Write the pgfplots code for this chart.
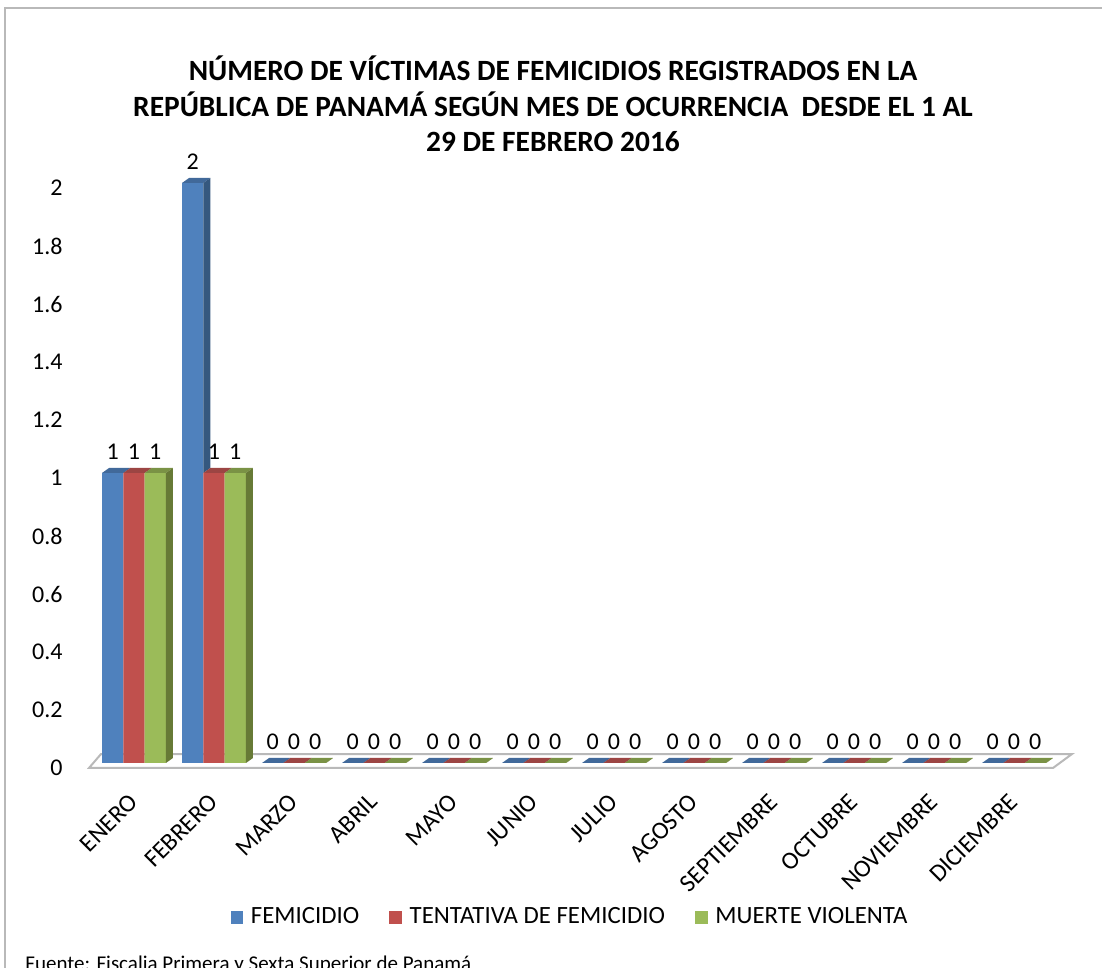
\documentclass[border=0pt]{standalone}
\usepackage{pgfplots}
\usepackage{pgfplotstable}
\pgfplotsset{compat=1.18}
\usepackage{fontspec}
\setmainfont{Carlito}
\definecolor{bF}{HTML}{4F81BD}
\definecolor{bT}{HTML}{41699A}
\definecolor{bS}{HTML}{35587F}
\definecolor{rF}{HTML}{C0504D}
\definecolor{rT}{HTML}{9C4543}
\definecolor{rS}{HTML}{8C3A38}
\definecolor{gF}{HTML}{9BBB59}
\definecolor{gT}{HTML}{7A9245}
\definecolor{gS}{HTML}{677A36}
\newcommand\defbarmark[4]{%
 \pgfdeclareplotmark{#1}{%
  \pgfscope
  \pgfmathsetmacro\hh{max(\yv-\nb,0)*145}%
  \pgftransformxshift{#2}%
  \pgfpathmoveto{\pgfpoint{-5.325pt}{0pt}}%
  \pgfpathlineto{\pgfpoint{5.325pt}{0pt}}%
  \pgfpathlineto{\pgfpoint{8.825pt}{2.5pt}}%
  \pgfpathlineto{\pgfpoint{-1.825pt}{2.5pt}}%
  \pgfpathclose
  \pgfsetfillcolor{#3}\pgfusepath{fill}%
  \pgfpathmoveto{\pgfpoint{5.325pt}{0pt}}%
  \pgfpathlineto{\pgfpoint{8.825pt}{2.5pt}}%
  \pgfpathlineto{\pgfpoint{8.825pt}{2.5pt-\hh pt}}%
  \pgfpathlineto{\pgfpoint{5.325pt}{-\hh pt}}%
  \pgfpathclose
  \pgfsetfillcolor{#4}\pgfusepath{fill}%
  \endpgfscope
 }}
\defbarmark{barA}{-10.65pt}{bT}{bS}
\defbarmark{barB}{0pt}{rT}{rS}
\defbarmark{barC}{10.65pt}{gT}{gS}
\pgfplotstableread{
x fem ten mue zero
0 1 1 1 0
1 2 1 1 0
2 0 0 0 0
3 0 0 0 0
4 0 0 0 0
5 0 0 0 0
6 0 0 0 0
7 0 0 0 0
8 0 0 0 0
9 0 0 0 0
10 0 0 0 0
11 0 0 0 0
}\data
\pgfplotsset{/pgf/number format/assume math mode=true}
\begin{document}
\begin{tikzpicture}
\useasboundingbox (0,0) rectangle (551pt,484pt);
\clip (0,0) rectangle (551pt,484pt);
\draw[gray!55, line width=0.8pt] (2.5pt,-20pt) rectangle (600pt,480pt);
\begin{axis}[
  at={(67pt,102.5pt)}, anchor=origin,
  x=40pt, y=145pt,
  xmin=-0.6, xmax=11.8, ymin=-0.03, ymax=2,
  clip=false,
  axis line style={draw=none},
  major tick length=0pt,
  xtick={0,1,2,3,4,5,6,7,8,9,10,11},
  xticklabels={ENERO,FEBRERO,MARZO,ABRIL,MAYO,JUNIO,JULIO,AGOSTO,SEPTIEMBRE,OCTUBRE,NOVIEMBRE,DICIEMBRE},
  xticklabel style={rotate=45, anchor=east, inner sep=0pt, font=\fontsize{12.4}{14}\selectfont},
  xticklabel shift=13pt,
  ytick={0,0.2,0.4,0.6,0.8,1,1.2,1.4,1.6,1.8,2},
  yticklabel style={anchor=east, inner sep=0pt, xshift=-11.5pt, yshift=-2.5pt, font=\fontsize{12}{14}\selectfont},
  title={NÚMERO DE VÍCTIMAS DE FEMICIDIOS REGISTRADOS EN LA\\REPÚBLICA DE PANAMÁ SEGÚN MES DE OCURRENCIA\ \ DESDE EL 1 AL\\29 DE FEBRERO 2016},
  title style={at={(0.4708,1.114)}, anchor=center, align=center, font=\bfseries\fontsize{14.7}{17.8}\selectfont},
  legend style={at={(0.4889,-0.2470)}, anchor=center, draw=none, fill=none, font=\fontsize{12.4}{14}\selectfont, legend columns=3, /tikz/every even column/.append style={column sep=13pt}},
  legend image code/.code={\fill[#1,draw=none] (0pt,-3.2pt) rectangle (6.4pt,3.2pt); \path (8.2pt,0pt);},
  every node near coord/.append style={font=\fontsize{12}{14}\selectfont, black, yshift=3pt},
]
\addplot[fill=white, draw=gray!55, line width=1pt, forget plot] coordinates {(-0.5625,-0.0172) (11.4875,-0.0172) (11.725,0.031) (-0.4125,0.031)} -- cycle;

\addplot[scatter, only marks, mark=barA, forget plot, visualization depends on={y \as \yv}, visualization depends on={\thisrow{ten} \as \nb}, scatter/use mapped color={draw=none,fill=none}] table[x=x,y=fem]{\data};
\addplot[ybar, bar width=10.65pt, bar shift=-10.65pt, fill=bF, draw=none, nodes near coords, every node near coord/.append style={xshift=-10.65pt}] table[x=x,y=fem]{\data};
\addlegendentry{FEMICIDIO}

\addplot[scatter, only marks, mark=barB, forget plot, visualization depends on={y \as \yv}, visualization depends on={\thisrow{mue} \as \nb}, scatter/use mapped color={draw=none,fill=none}] table[x=x,y=ten]{\data};
\addplot[ybar, bar width=10.65pt, bar shift=0pt, fill=rF, draw=none, nodes near coords] table[x=x,y=ten]{\data};
\addlegendentry{TENTATIVA DE FEMICIDIO}

\addplot[scatter, only marks, mark=barC, forget plot, visualization depends on={y \as \yv}, visualization depends on={\thisrow{zero} \as \nb}, scatter/use mapped color={draw=none,fill=none}] table[x=x,y=mue]{\data};
\addplot[ybar, bar width=10.65pt, bar shift=10.65pt, fill=gF, draw=none, nodes near coords, every node near coord/.append style={xshift=10.65pt}] table[x=x,y=mue]{\data};
\addlegendentry{MUERTE VIOLENTA}
\end{axis}
\node[anchor=base west, inner sep=0pt, font=\fontsize{10.5}{13}\selectfont] at (12.5pt,-1.5pt) {Fuente: Fiscalia Primera y Sexta Superior de Panamá};
\end{tikzpicture}
\end{document}
